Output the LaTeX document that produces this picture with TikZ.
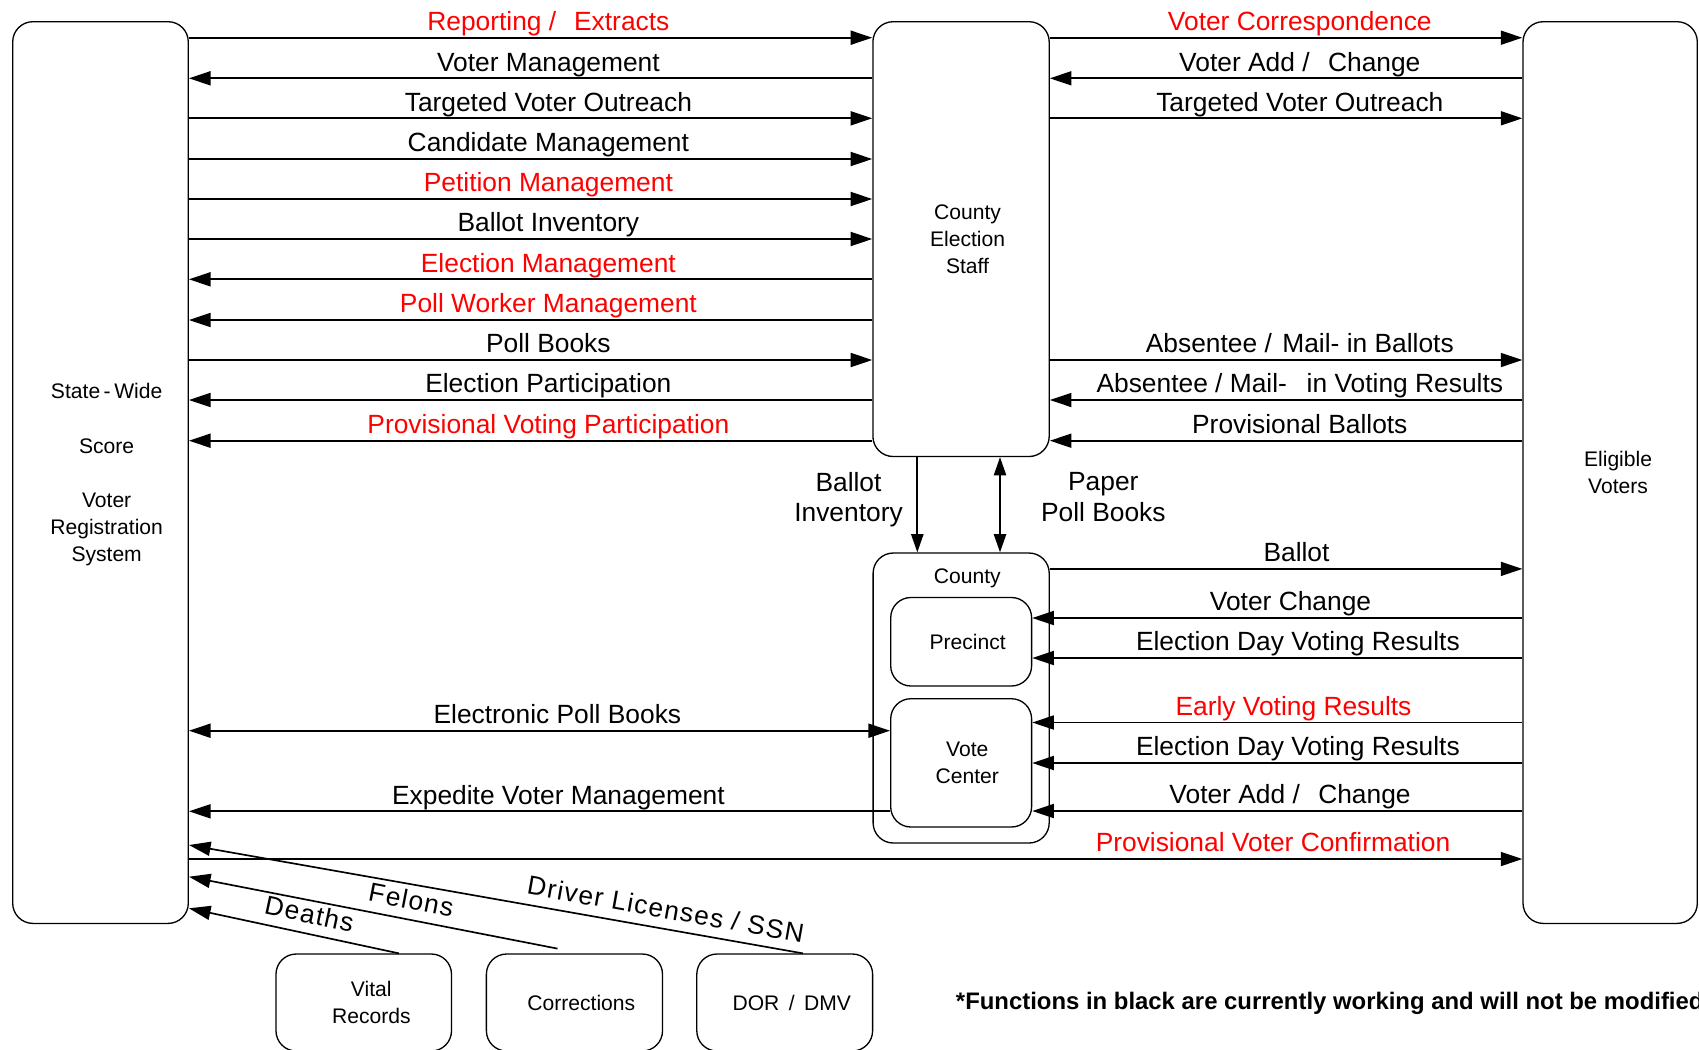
\documentclass[tikz,border=0pt]{standalone}
\usepackage{fontspec}
\setmainfont{Liberation Sans}
\usetikzlibrary{arrows.meta}
\begin{document}
\begin{tikzpicture}[x=0.02cm, y=-0.02cm,
  >={Triangle[length=12.3pt,width=8pt]},
  box/.style={draw, line width=0.75pt, rounded corners=11.5pt, inner sep=0pt},
  boxtext/.style={font=\fontsize{12}{15.4}\selectfont, align=center, inner sep=0pt},
  flow/.style={line width=0.95pt},
  vflow/.style={line width=0.95pt, >={Triangle[length=10.4pt,width=7pt]}},
  lab/.style={font=\fontsize{15}{18}\selectfont, anchor=base, yshift=4pt, inner sep=0pt},
  vlab/.style={font=\fontsize{15}{17.4}\selectfont, align=center, inner sep=0pt},
  hot/.style={text=red},
  diag/.style={font=\fontsize{15}{18}\selectfont\addfontfeature{LetterSpace=5}, sloped, above=5.3pt, inner sep=0pt},
]
\useasboundingbox (0,0) rectangle (1699,1049);
\clip (0,0) rectangle (1699,1049);

% ---- main actors ----
\node[box, minimum width={175.6*0.02cm}, minimum height={901.7*0.02cm}] (sw) at (100.5,472.55) {};
\node[boxtext] (swtext) at ([xshift=3.5pt,yshift=-1.2pt]sw.center)
  {State\,-\,Wide\\[15.4pt]Score\\[15.4pt]Voter\\Registration\\System};

\node[box, minimum width={176.3*0.02cm}, minimum height={434.8*0.02cm}] (ces) at (961.05,239.1) {};
\node[boxtext] (cestext) at ([xshift=3.7pt]ces.center) {County\\Election\\Staff};

\node[box, minimum width={174.3*0.02cm}, minimum height={901.7*0.02cm}] (ev) at (1610.15,472.55) {};
\node[boxtext] (evtext) at ([xshift=4.5pt]ev.center) {Eligible\\Voters};

% ---- county with its precinct and vote center ----
\node[box, minimum width={176.1*0.02cm}, minimum height={290*0.02cm}] (county) at (961.15,698) {};
\node[boxtext] (countytext) at (967.3,578.3) {County};
\node[box, minimum width={140.9*0.02cm}, minimum height={88.5*0.02cm}] (precinct) at (961.15,641.75) {};
\node[boxtext] (precincttext) at ([xshift=3.7pt]precinct.center) {Precinct};
\node[box, minimum width={140.9*0.02cm}, minimum height={128.3*0.02cm}] (vote) at (961.15,762.85) {};
\node[boxtext] (votetext) at ([xshift=3.5pt]vote.center) {Vote\\Center};

% ---- outside data sources ----
\node[box, minimum width={175.5*0.02cm}, minimum height={97*0.02cm}] (vital) at (363.75,1002.5) {};
\node[boxtext] (vitaltext) at ([xshift=4.3pt]vital.center) {Vital\\Records};
\node[box, minimum width={176.1*0.02cm}, minimum height={97*0.02cm}] (corr) at (574.45,1002.5) {};
\node[boxtext] (corrtext) at ([xshift=3.9pt]corr.center) {Corrections};
\node[box, minimum width={175.8*0.02cm}, minimum height={97*0.02cm}] (dor) at (784.7,1002.5) {};
\node[boxtext] (dortext) at ([xshift=4pt]dor.center) {DOR\ \,/\ \,DMV};

% ---- state-wide system <-> county election staff ----
\draw[flow,->] (sw.east |- 0,37.7) -- node[lab,hot,pos=0.526] (a1) {Reporting /\hspace{0.68em}Extracts} (ces.west |- 0,37.7);
\draw[flow,<-] (sw.east |- 0,78.3) -- node[lab,pos=0.526] (a2) {Voter Management} (ces.west |- 0,78.3);
\draw[flow,->] (sw.east |- 0,118.3) -- node[lab,pos=0.526] (a3) {Targeted Voter Outreach} (ces.west |- 0,118.3);
\draw[flow,->] (sw.east |- 0,159) -- node[lab,pos=0.526] (a4) {Candidate Management} (ces.west |- 0,159);
\draw[flow,->] (sw.east |- 0,199) -- node[lab,hot,pos=0.526] (a5) {Petition Management} (ces.west |- 0,199);
\draw[flow,->] (sw.east |- 0,239) -- node[lab,pos=0.526] (a6) {Ballot Inventory} (ces.west |- 0,239);
\draw[flow,<-] (sw.east |- 0,279.3) -- node[lab,hot,pos=0.526] (a7) {Election Management} (ces.west |- 0,279.3);
\draw[flow,<-] (sw.east |- 0,320) -- node[lab,hot,pos=0.526] (a8) {Poll Worker Management} (ces.west |- 0,320);
\draw[flow,->] (sw.east |- 0,360) -- node[lab,pos=0.526] (a9) {Poll Books} (ces.west |- 0,360);
\draw[flow,<-] (sw.east |- 0,400) -- node[lab,pos=0.526] (a10) {Election Participation} (ces.west |- 0,400);
\draw[flow,<-] (sw.east |- 0,440.7) -- node[lab,hot,pos=0.526] (a11) {Provisional Voting Participation} (ces.west |- 0,440.7);

% ---- county election staff <-> eligible voters ----
\draw[flow,->] (ces.east |- 0,37.7) -- node[lab,hot,pos=0.529] (b1) {Voter Correspondence} (ev.west |- 0,37.7);
\draw[flow,<-] (ces.east |- 0,78.3) -- node[lab,pos=0.529] (b2) {Voter Add /\hspace{0.7em}Change} (ev.west |- 0,78.3);
\draw[flow,->] (ces.east |- 0,118.3) -- node[lab,pos=0.529] (b3) {Targeted Voter Outreach} (ev.west |- 0,118.3);
\draw[flow,->] (ces.east |- 0,360) -- node[lab,pos=0.529] (b4) {Absentee /\hspace{0.4em}Mail- in Ballots} (ev.west |- 0,360);
\draw[flow,<-] (ces.east |- 0,400) -- node[lab,pos=0.529] (b5) {Absentee / Mail-\hspace{0.75em}in Voting Results} (ev.west |- 0,400);
\draw[flow,<-] (ces.east |- 0,440.7) -- node[lab,pos=0.529] (b6) {Provisional Ballots} (ev.west |- 0,440.7);

% ---- staff -> county ----
\draw[vflow,->] (ces.south -| 917.3,0) -- (county.north -| 917.3,0);
\draw[vflow,<->] (ces.south -| 1000,0) -- (county.north -| 1000,0);
\node[vlab] (c1) at (848.5,499.7) {Ballot\\Inventory};
\node[vlab] (c2) at (1103.3,497) {Paper\\Poll Books};

% ---- county <-> eligible voters ----
\draw[flow,->] (county.east |- 0,568.9) -- node[lab,pos=0.522] (d1) {Ballot} (ev.west |- 0,568.9);
\draw[flow,<-] (precinct.east |- 0,618) -- node[lab,pos=0.527] (d2) {Voter Change} (ev.west |- 0,618);
\draw[flow,<-] (precinct.east |- 0,658) -- node[lab,pos=0.542] (d3) {Election Day Voting Results} (ev.west |- 0,658);
\draw[flow,<-] (vote.east |- 0,722.5) -- node[lab,hot,pos=0.533] (d4) {Early Voting Results} (ev.west |- 0,722.5);
\draw[flow,<-] (vote.east |- 0,763) -- node[lab,pos=0.542] (d5) {Election Day Voting Results} (ev.west |- 0,763);
\draw[flow,<-] (vote.east |- 0,811) -- node[lab,pos=0.526] (d6) {Voter Add /\hspace{0.7em}Change} (ev.west |- 0,811);
\draw[flow,->] (sw.east |- 0,859) -- node[lab,hot,pos=0.813] (d7) {Provisional Voter Confirmation} (ev.west |- 0,859);

% ---- state-wide system <-> vote center ----
\draw[flow,<->] (sw.east |- 0,730.7) -- node[lab,pos=0.5255] (e1) {Electronic Poll Books} (vote.west |- 0,730.7);
\draw[flow,<-] (sw.east |- 0,811.3) -- node[lab,pos=0.527] (e2) {Expedite Voter Management} (vote.west |- 0,811.3);

% ---- outside feeds into the state-wide system ----
\draw[flow,->] ([xshift=10.36pt]dor.north) -- node[diag,pos=0.229] (f1) {Driver Licenses / SSN} (sw.east |- 0,845);
\draw[flow,->] ([xshift=-9.65pt,yshift=2.7pt]corr.north) -- node[diag,pos=0.407] (f2) {Felons} (sw.east |- 0,876.7);
\draw[flow,->] ([xshift=20pt]vital.north) -- node[diag,pos=0.446] (f3) {Deaths} (sw.east |- 0,908.3);

% ---- footnote ----
\node[font=\bfseries\fontsize{13.6}{16}\selectfont, anchor=base west, inner sep=0pt] (note) at (955.6,1009.7)
  {*Functions in black are currently working and will not be modified};
\end{tikzpicture}
\end{document}
